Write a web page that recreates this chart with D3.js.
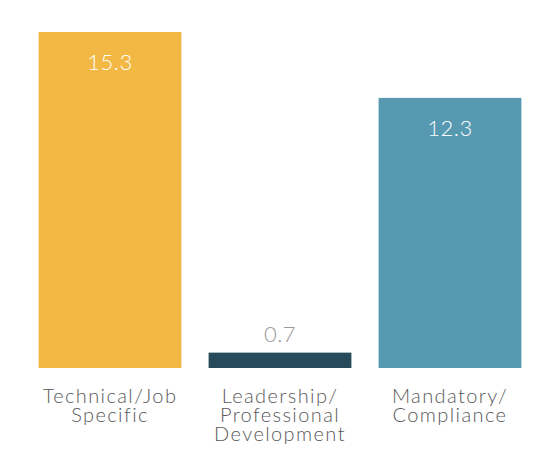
<!DOCTYPE html>
<html>
<head>
<meta charset="utf-8">
<script src="https://cdn.jsdelivr.net/npm/d3@7"></script>
<style>
html,body{margin:0;padding:0;background:#fff;}
text{font-family:"Lato","Open Sans",sans-serif;font-weight:300;}
</style>
</head>
<body>
<svg id="chart" width="535" height="451"></svg>
<script>
const categories = ["Technical/Job Specific", "Leadership/Professional Development", "Mandatory/Compliance"];
const labelLines = [["Technical/Job", "Specific"], ["Leadership/", "Professional", "Development"], ["Mandatory/", "Compliance"]];
const values = [15.3, 0.7, 12.3];
const colors = ["#F2B843", "#264B5A", "#5699B0"];

const svg = d3.select("#chart");
const margin = {left: 25, right: 0, top: 32, bottom: 83};
const W = 535, H = 451;
const x = d3.scaleBand().domain(categories).range([margin.left, W - margin.right]).paddingInner(0.16).paddingOuter(0.08);
const y = d3.scaleLinear().domain([0, 15.3]).range([H - margin.bottom, margin.top]);

const data = categories.map((c, i) => ({c, v: values[i], color: colors[i], lines: labelLines[i]}));

svg.selectAll("rect.bar").data(data).join("rect")
  .attr("class", "bar")
  .attr("x", d => x(d.c))
  .attr("width", x.bandwidth())
  .attr("y", d => y(d.v))
  .attr("height", d => y(0) - y(d.v))
  .attr("fill", d => d.color);

svg.selectAll("text.val").data(data).join("text")
  .attr("class", "val")
  .attr("x", d => x(d.c) + x.bandwidth() / 2)
  .attr("y", d => (y(0) - y(d.v)) > 60 ? y(d.v) + 38 : y(d.v) - 11)
  .attr("text-anchor", "middle")
  .attr("font-size", 22)
  .attr("letter-spacing", 0.5)
  .attr("fill", d => (y(0) - y(d.v)) > 60 ? "#ffffff" : "#999999")
  .text(d => d.v.toFixed(1));

const lab = svg.selectAll("text.cat").data(data).join("text")
  .attr("class", "cat")
  .attr("text-anchor", "middle")
  .attr("font-size", 20)
  .attr("letter-spacing", 1.4)
  .attr("fill", "#595959");
lab.each(function(d) {
  const t = d3.select(this);
  d.lines.forEach((ln, j) => {
    t.append("tspan")
      .attr("x", x(d.c) + x.bandwidth() / 2)
      .attr("y", y(0) + 35 + j * 19)
      .text(ln);
  });
});
</script>
</body>
</html>
